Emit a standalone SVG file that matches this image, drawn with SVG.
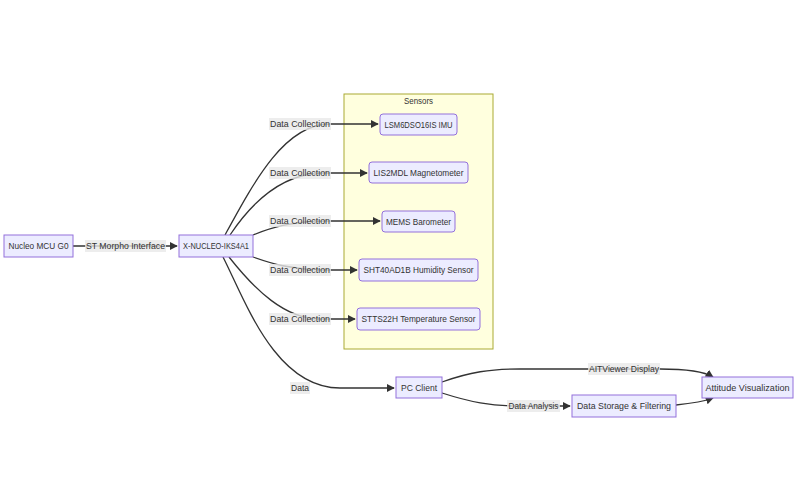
<svg xmlns="http://www.w3.org/2000/svg" width="806" height="497" viewBox="0 0 806 497">
<style>
.node rect{fill:#ECECFF;stroke:#9370DB;stroke-width:1}
text{font-family:"Liberation Sans",Arial,sans-serif;font-size:9px;fill:#333;text-anchor:middle;dominant-baseline:central}
.edge{fill:none;stroke:#333;stroke-width:1.3}
.lbl rect{fill:#e8e8e8;opacity:0.8}
</style>
<defs>
<marker id="arr" viewBox="0 0 10 10" refX="9" refY="5" markerWidth="8" markerHeight="8" markerUnits="userSpaceOnUse" orient="auto">
<path d="M0,0 L10,5 L0,10 z" fill="#333"/>
</marker>
</defs>
<rect width="806" height="497" fill="#fff"/>
<g id="cluster-sensors">
<rect x="344" y="94" width="149" height="255" fill="#ffffde" stroke="#aaaa33" stroke-width="1"/>
<text x="418.5" y="101" textLength="29" lengthAdjust="spacingAndGlyphs">Sensors</text>
</g>
<g id="connectors">
<path class="edge" d="M73,246 L177,246" marker-end="url(#arr)"/>
<path class="edge" d="M225,235 C255,180 285,124 330,124 L378,124" marker-end="url(#arr)"/>
<path class="edge" d="M230,235 C250,205 280,175 320,173 L367,173" marker-end="url(#arr)"/>
<path class="edge" d="M253,235 C270,228 290,221 330,221 L380,221" marker-end="url(#arr)"/>
<path class="edge" d="M253,257 C270,263 290,270 330,270 L357,270" marker-end="url(#arr)"/>
<path class="edge" d="M229,257 C255,290 285,319 320,319 L355,319" marker-end="url(#arr)"/>
<path class="edge" d="M223,257 C245,300 275,388 340,388 L394,388" marker-end="url(#arr)"/>
<path class="edge" d="M442,382 C470,372 490,369 520,369 L660,369 C690,369 705,372 713,377" marker-end="url(#arr)"/>
<path class="edge" d="M442,393 C470,402 490,406 520,406 L570,406" marker-end="url(#arr)"/>
<path class="edge" d="M676,405 C695,403 705,401 713,398" marker-end="url(#arr)"/>
</g>
<g id="edge-labels">
<g class="lbl"><rect x="85" y="240" width="81" height="12"/><text x="125.5" y="246" textLength="79" lengthAdjust="spacingAndGlyphs">ST Morpho Interface</text></g>
<g class="lbl"><rect x="269" y="118" width="62" height="12"/><text x="300" y="124" textLength="60" lengthAdjust="spacingAndGlyphs">Data Collection</text></g>
<g class="lbl"><rect x="269" y="167" width="62" height="12"/><text x="300" y="173" textLength="60" lengthAdjust="spacingAndGlyphs">Data Collection</text></g>
<g class="lbl"><rect x="269" y="215" width="62" height="12"/><text x="300" y="221" textLength="60" lengthAdjust="spacingAndGlyphs">Data Collection</text></g>
<g class="lbl"><rect x="269" y="264" width="62" height="12"/><text x="300" y="270" textLength="60" lengthAdjust="spacingAndGlyphs">Data Collection</text></g>
<g class="lbl"><rect x="269" y="313" width="62" height="12"/><text x="300" y="319" textLength="60" lengthAdjust="spacingAndGlyphs">Data Collection</text></g>
<g class="lbl"><rect x="290" y="382" width="20" height="12"/><text x="300" y="388" textLength="18" lengthAdjust="spacingAndGlyphs">Data</text></g>
<g class="lbl"><rect x="588" y="363" width="72" height="12"/><text x="624" y="369" textLength="70" lengthAdjust="spacingAndGlyphs">AITViewer Display</text></g>
<g class="lbl"><rect x="507" y="400" width="53" height="12"/><text x="533.5" y="406" textLength="50" lengthAdjust="spacingAndGlyphs">Data Analysis</text></g>
</g>
<g id="node-nucleo" class="node"><rect x="4" y="235" width="69" height="22"/><text x="38.5" y="246" textLength="60" lengthAdjust="spacingAndGlyphs">Nucleo MCU G0</text></g>
<g id="node-xnucleo" class="node"><rect x="179" y="235" width="74" height="22"/><text x="216" y="246" textLength="66" lengthAdjust="spacingAndGlyphs">X-NUCLEO-IKS4A1</text></g>
<g id="node-imu" class="node"><rect x="380" y="114" width="77" height="21" rx="3"/><text x="418.5" y="124.5" textLength="68" lengthAdjust="spacingAndGlyphs">LSM6DSO16IS IMU</text></g>
<g id="node-mag" class="node"><rect x="369" y="162" width="99" height="21" rx="3"/><text x="418.5" y="172.5" textLength="90" lengthAdjust="spacingAndGlyphs">LIS2MDL Magnetometer</text></g>
<g id="node-baro" class="node"><rect x="382" y="211" width="73" height="21" rx="3"/><text x="418.5" y="221.5" textLength="65" lengthAdjust="spacingAndGlyphs">MEMS Barometer</text></g>
<g id="node-hum" class="node"><rect x="359" y="259" width="119" height="22" rx="3"/><text x="418.5" y="270" textLength="110" lengthAdjust="spacingAndGlyphs">SHT40AD1B Humidity Sensor</text></g>
<g id="node-temp" class="node"><rect x="357" y="308" width="123" height="22" rx="3"/><text x="418.5" y="319" textLength="114" lengthAdjust="spacingAndGlyphs">STTS22H Temperature Sensor</text></g>
<g id="node-pc" class="node"><rect x="396" y="377" width="46" height="21"/><text x="419" y="387.5" textLength="36" lengthAdjust="spacingAndGlyphs">PC Client</text></g>
<g id="node-storage" class="node"><rect x="572" y="395" width="104" height="22"/><text x="624" y="406" textLength="94" lengthAdjust="spacingAndGlyphs">Data Storage &amp; Filtering</text></g>
<g id="node-att" class="node"><rect x="702" y="377" width="91" height="21"/><text x="747.5" y="387.5" textLength="84" lengthAdjust="spacingAndGlyphs">Attitude Visualization</text></g>
</svg>
